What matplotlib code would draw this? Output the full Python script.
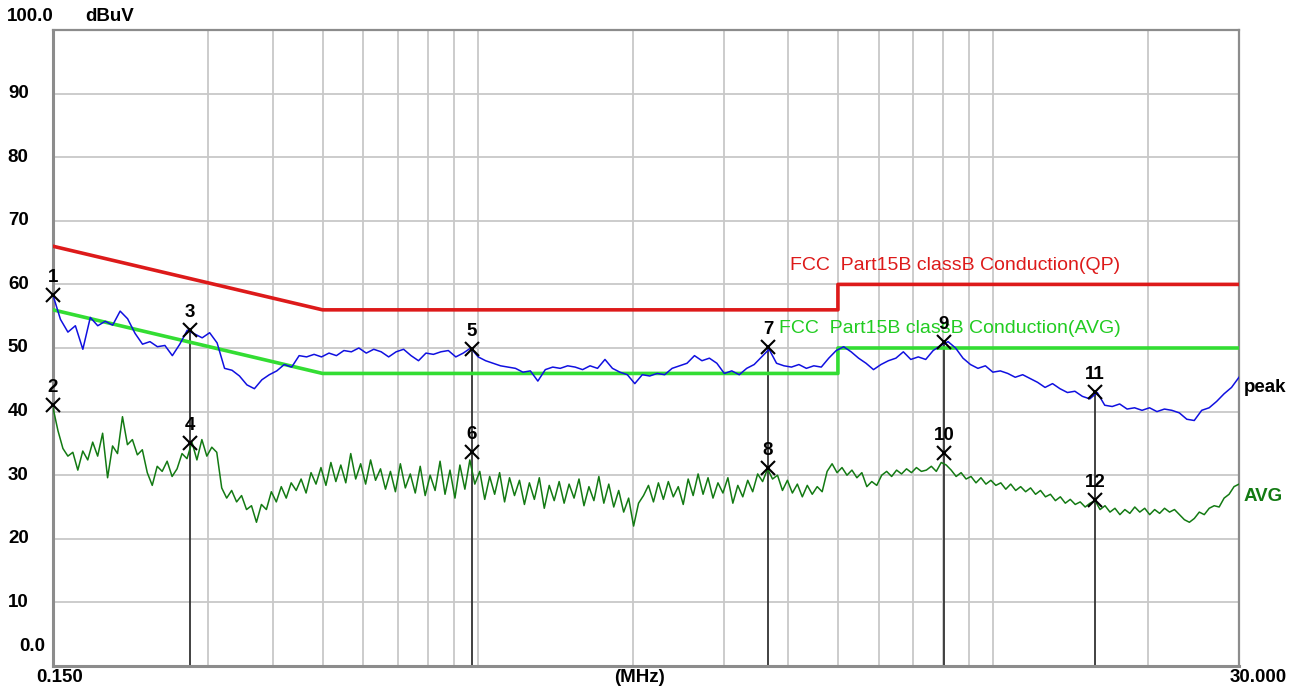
import matplotlib
matplotlib.use("Agg")
import matplotlib.pyplot as plt
import numpy as np

# sweep range (MHz)
f_start, f_stop = 0.15, 30.0

# peak detector trace, evenly spaced on the log axis
peak_vals = [
    58.3, 54.5, 52.5, 53.5, 49.8, 54.8, 53.5, 54.2, 53.6, 55.8,
    54.6, 52.3, 50.6, 51.0, 50.2, 50.4, 48.8, 50.6, 52.8, 52.2,
    51.6, 52.4, 50.8, 46.8, 46.5, 45.6, 44.2, 43.6, 45.0, 45.8,
    46.4, 47.4, 47.0, 48.8, 48.6, 49.0, 48.6, 49.2, 48.8, 49.6,
    49.4, 50.0, 49.2, 49.8, 49.4, 48.6, 49.4, 49.8, 48.8, 48.0,
    49.2, 49.0, 49.4, 49.6, 48.6, 49.2, 50.0, 48.6, 48.0, 47.6,
    47.2, 47.0, 46.8, 46.2, 46.4, 44.8, 46.6, 47.0, 46.8, 47.2,
    47.0, 46.6, 47.2, 46.8, 48.2, 46.8, 46.2, 45.8, 44.4, 45.8,
    45.6, 46.0, 45.8, 46.8, 47.2, 47.6, 48.8, 48.0, 48.4, 47.6,
    46.0, 46.4, 45.8, 46.8, 47.4, 48.6, 49.8, 47.6, 47.2, 47.0,
    47.4, 46.8, 47.2, 47.0, 48.4, 49.6, 50.2, 49.4, 48.4, 47.6,
    46.6, 47.4, 48.0, 48.4, 49.4, 48.2, 48.6, 48.2, 49.6, 50.4,
    51.0, 50.0, 48.4, 47.4, 46.8, 47.2, 46.2, 46.4, 46.0, 45.4,
    45.8, 45.2, 44.6, 43.8, 44.4, 43.6, 43.0, 43.2, 42.4, 42.0,
    43.0, 41.0, 40.8, 41.2, 40.4, 40.6, 40.2, 40.6, 40.0, 40.4,
    40.2, 39.8, 38.8, 38.6, 40.2, 40.6, 41.6, 42.8, 43.8, 45.4,
]

# average detector trace
avg_vals = [
    40.6, 37.0, 34.2, 33.0, 33.6, 30.8, 33.8, 32.4, 35.2, 33.0,
    36.6, 29.6, 34.6, 33.4, 39.2, 34.8, 35.6, 33.2, 34.0, 30.4,
    28.4, 31.4, 30.6, 32.2, 29.8, 31.0, 33.4, 32.6, 35.2, 32.4,
    35.6, 33.0, 34.4, 33.6, 28.0, 26.4, 27.6, 25.8, 26.8, 24.6,
    25.2, 22.6, 25.4, 24.6, 27.4, 25.8, 28.2, 26.4, 28.8, 27.6,
    29.4, 27.2, 30.4, 28.6, 31.2, 28.4, 32.0, 29.0, 31.6, 28.8,
    33.4, 29.4, 31.8, 28.6, 32.4, 29.2, 31.0, 27.8, 30.6, 27.4,
    31.8, 28.0, 30.2, 27.2, 31.4, 26.8, 30.0, 27.6, 32.2, 27.0,
    30.8, 26.4, 31.6, 27.8, 32.4, 28.6, 30.6, 26.2, 29.8, 27.0,
    30.4, 25.8, 29.6, 26.8, 29.2, 25.4, 28.8, 26.2, 29.6, 24.8,
    28.4, 26.0, 29.0, 25.6, 28.6, 26.4, 29.4, 25.2, 28.2, 26.0,
    29.8, 25.6, 28.6, 25.0, 27.6, 24.2, 26.4, 22.0, 25.6, 26.8,
    28.4, 25.8, 28.8, 26.2, 29.0, 26.6, 28.2, 25.4, 29.4, 26.8,
    30.2, 27.0, 29.6, 26.4, 28.8, 27.2, 29.6, 25.6, 28.4, 26.6,
    29.2, 27.4, 30.2, 29.0, 31.0, 29.4, 30.0, 27.6, 29.2, 27.2,
    28.6, 26.6, 28.4, 27.0, 28.2, 27.4, 30.6, 31.8, 30.4, 31.2,
    30.0, 30.8, 29.6, 30.4, 28.2, 29.0, 28.4, 30.0, 30.6, 29.8,
    30.8, 30.2, 31.0, 30.4, 31.2, 30.6, 30.8, 31.4, 30.6, 32.0,
    31.6, 30.8, 29.8, 30.4, 29.4, 29.8, 28.8, 29.6, 28.6, 29.2,
    28.4, 28.8, 27.8, 28.6, 27.6, 28.2, 27.4, 28.0, 27.0, 27.6,
    26.6, 27.0, 26.0, 26.6, 25.6, 26.2, 25.4, 25.8, 25.0, 25.6,
    26.0, 24.6, 25.2, 24.2, 24.8, 23.8, 24.6, 24.0, 25.0, 24.2,
    24.8, 23.8, 24.6, 24.0, 24.8, 24.2, 24.6, 23.8, 23.0, 22.6,
    23.2, 24.2, 23.8, 24.8, 25.2, 25.0, 26.4, 27.0, 28.2, 28.6,
]

# FCC Part 15B class B limits
qp_freq = [0.15, 0.5, 5.0, 5.0, 30.0]
qp_limit = [66, 56, 56, 60, 60]
av_freq = [0.15, 0.5, 5.0, 5.0, 30.0]
av_limit = [56, 46, 46, 50, 50]

# markers: frequency, peak level, avg level
mk_freq = [0.15, 0.2766, 0.973, 3.66, 8.03, 15.75]
mk_peak = [58.4, 52.9, 49.9, 50.1, 50.9, 43.1]
mk_avg = [41.1, 35.1, 33.7, 31.2, 33.5, 26.1]

y_ticks = [10, 20, 30, 40, 50, 60, 70, 80, 90]
grid_freqs = [0.3, 0.4, 0.5, 0.6, 0.7, 0.8, 0.9, 1, 2, 3, 4, 5, 6, 7, 8, 9, 10, 20]

BOLD = dict(family="Liberation Sans", fontweight="bold")
FS = 13.5

fig = plt.figure(figsize=(12.99, 6.90), dpi=100)
ax = fig.add_axes([53 / 1299, 24 / 690, 1186 / 1299, 636 / 690])
ax.set_xscale("log")
ax.set_xlim(f_start, f_stop)
ax.set_ylim(0, 100)
ax.set_xticks([])
ax.set_yticks([])
ax.minorticks_off()
ax.tick_params(which="both", length=0)

for f in grid_freqs:
    ax.axvline(f, color="#c8c8c8", lw=1.3, zorder=0)
for y in y_ticks:
    ax.axhline(y, color="#c8c8c8", lw=1.3, zorder=0)

for side, sp in ax.spines.items():
    sp.set_color("#8c8c8c")
    sp.set_linewidth(2.2 if side in ("left", "bottom") else 1.6)

# marker drop lines
for f, p in zip(mk_freq, mk_peak):
    ax.plot([f, f], [0, p], color="#333333", lw=1.3, zorder=2)

ax.plot(qp_freq, qp_limit, color="#dd1a1a", lw=2.6, zorder=3)
ax.plot(av_freq, av_limit, color="#33dd33", lw=2.6, zorder=3)

f_peak = np.geomspace(f_start, f_stop, len(peak_vals))
f_avg = np.geomspace(f_start, f_stop, len(avg_vals))
ax.plot(f_peak, peak_vals, color="#1010e0", lw=1.1, zorder=4)
ax.plot(f_avg, avg_vals, color="#137a13", lw=1.1, zorder=4)

# markers and their numbers
n = 1
for f, p, a in zip(mk_freq, mk_peak, mk_avg):
    for v in (p, a):
        ax.plot(f, v, marker="x", color="black", ms=10, mew=1.5, zorder=6,
                clip_on=False)
        ax.annotate(str(n), (f, v), xytext=(0, 6.5), textcoords="offset points",
                    ha="center", va="bottom", fontsize=FS, zorder=7,
                    annotation_clip=False, **BOLD)
        n += 1

# y labels
yt = ax.get_yaxis_transform()
for y in y_ticks:
    ax.text(-0.0205, y, str(y), transform=yt, ha="right", va="center",
            fontsize=FS, **BOLD)
ax.text(-0.0065, 3.0, "0.0", transform=yt, ha="right", va="center",
        fontsize=FS, **BOLD)
ax.text(-0.039, 102.2, "100.0", transform=yt, ha="left", va="center",
        fontsize=FS, **BOLD)
ax.text(0.027, 102.2, "dBuV", transform=yt, ha="left", va="center",
        fontsize=FS, **BOLD)

# x labels
ax.text(0.006, -0.018, "0.150", transform=ax.transAxes, ha="center",
        va="center", fontsize=FS, **BOLD)
ax.text(0.4945, -0.018, "(MHz)", transform=ax.transAxes, ha="center",
        va="center", fontsize=FS, **BOLD)
ax.text(1.016, -0.018, "30.000", transform=ax.transAxes, ha="center",
        va="center", fontsize=FS, **BOLD)

# trace and limit names
ax.text(1.004, 43.8, "peak", transform=yt, ha="left", va="center",
        fontsize=FS, color="black", **BOLD)
ax.text(1.004, 26.6, "AVG", transform=yt, ha="left", va="center",
        fontsize=FS, color="#137a13", **BOLD)
ax.text(0.621, 63.0, "FCC  Part15B classB Conduction(QP)", transform=yt,
        ha="left", va="center", fontsize=14, color="#dd1a1a",
        family="Liberation Sans")
ax.text(0.6125, 53.1, "FCC  Part15B classB Conduction(AVG)", transform=yt,
        ha="left", va="center", fontsize=14, color="#22cc22",
        family="Liberation Sans")

fig.savefig("out.png", dpi=100)
